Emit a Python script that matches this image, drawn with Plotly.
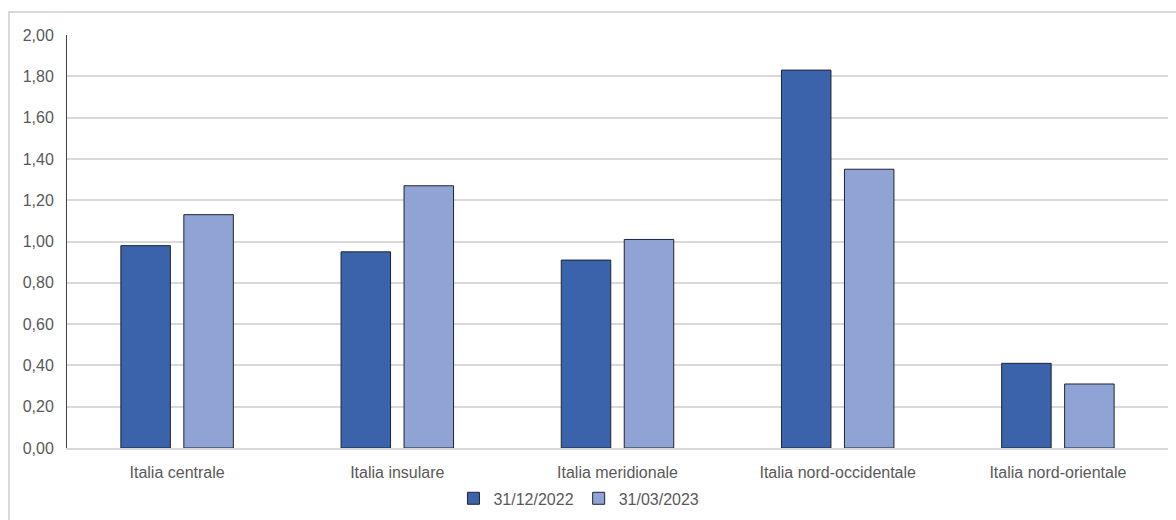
import plotly.graph_objects as go

# Regional values for the two reporting dates
regioni = ["Italia centrale", "Italia insulare", "Italia meridionale",
           "Italia nord-occidentale", "Italia nord-orientale"]
valori_dic_2022 = [0.98, 0.95, 0.91, 1.83, 0.41]
valori_mar_2023 = [1.13, 1.27, 1.01, 1.35, 0.31]
etichetta_dic_2022 = "31/12/2022"
etichetta_mar_2023 = "31/03/2023"
tick_y = [0.0, 0.2, 0.4, 0.6, 0.8, 1.0, 1.2, 1.4, 1.6, 1.8, 2.0]

FONT = "Liberation Sans, Arial, sans-serif"
TEXT_COLOR = "#595959"
GRID_COLOR = "#d9d9d9"
FONT_SIZE = 16

fig = go.Figure()
fig.add_trace(go.Bar(
    x=regioni, y=valori_dic_2022, name=etichetta_dic_2022,
    marker=dict(color="#3b63ab", line=dict(color="#1e2430", width=1)),
))
fig.add_trace(go.Bar(
    x=regioni, y=valori_mar_2023, name=etichetta_mar_2023,
    marker=dict(color="#8fa4d4", line=dict(color="#1e2430", width=1)),
))

# Light frame around the chart area, running past the right and bottom edges
fig.add_shape(type="rect", xref="paper", yref="paper",
              x0=-0.0527, x1=1.2, y0=-0.4, y1=1.0557,
              line=dict(color=GRID_COLOR, width=2), layer="below")

fig.update_layout(
    width=1176, height=520,
    margin=dict(l=67, r=8, t=35, b=72, autoexpand=False),
    paper_bgcolor="white", plot_bgcolor="white",
    separators=",.",
    barmode="group", bargap=0.428, bargroupgap=0.214,
    font=dict(family=FONT, size=FONT_SIZE, color=TEXT_COLOR),
    showlegend=True,
    legend=dict(orientation="h", x=0.465, xanchor="center", y=-0.122, yanchor="middle",
                font=dict(family=FONT, size=FONT_SIZE, color=TEXT_COLOR),
                itemwidth=30, traceorder="normal", bgcolor="rgba(0,0,0,0)"),
    xaxis=dict(showgrid=False, showline=True, linecolor=GRID_COLOR, linewidth=2,
               ticks="", ticklabelstandoff=9, automargin=False,
               tickfont=dict(family=FONT, size=FONT_SIZE, color=TEXT_COLOR)),
    yaxis=dict(range=[0, 2.0], tickvals=tick_y, tickformat=".2f",
               showgrid=True, gridcolor=GRID_COLOR, gridwidth=2,
               zeroline=False, showline=True, linecolor="#404040", linewidth=1,
               ticks="", ticklabelstandoff=9, automargin=False,
               tickfont=dict(family=FONT, size=FONT_SIZE, color=TEXT_COLOR)),
)

fig.write_html("out.html")
